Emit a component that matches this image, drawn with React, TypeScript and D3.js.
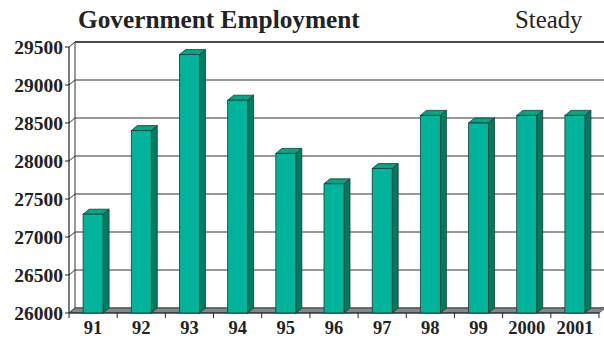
import React from "react";
import * as d3 from "d3";

const categories = ["91", "92", "93", "94", "95", "96", "97", "98", "99", "2000", "2001"];
const values = [27300, 28400, 29400, 28800, 28100, 27700, 27900, 28600, 28500, 28600, 28600];
const yTicks = [26000, 26500, 27000, 27500, 28000, 28500, 29000, 29500];

const W = 604, H = 339;
const left = 69, right = 599, bottom = 313, top = 47;
const DX = 6, DY = -5;

export default function App() {
  const x = d3.scaleBand<string>().domain(categories).range([left, right]).paddingInner(0).paddingOuter(0);
  const y = d3.scaleLinear().domain([26000, 29500]).range([bottom, top]);
  const bw = 20;
  const serif = "'Liberation Serif', 'Times New Roman', serif";

  return (
    <svg width={W} height={H} style={{ position: "absolute", left: 0, top: 0 }}>
      <rect width={W} height={H} fill="#fff" />
      <text x={78} y={28} fontFamily={serif} fontWeight="bold" fontSize={25.3} fill="#222">Government Employment</text>
      <text x={515} y={28} fontFamily={serif} fontSize={24.8} fill="#222">Steady</text>

      {/* back wall gridlines */}
      {yTicks.map((t) => (
        <g key={t}>
          <line x1={left + DX} x2={W} y1={y(t) + DY} y2={y(t) + DY} stroke={t === 29500 ? "#111" : "#333"} strokeWidth={t === 29500 ? 1.4 : 1} />
          <line x1={left} x2={left + DX} y1={y(t)} y2={y(t) + DY} stroke="#333" strokeWidth={1} />
          <line x1={left - 4} x2={left} y1={y(t)} y2={y(t)} stroke="#222" strokeWidth={1} />
          <text x={63} y={y(t) + 6.5} textAnchor="end" fontFamily={serif} fontWeight="bold" fontSize={19.5} fill="#222">{t}</text>
        </g>
      ))}
      <line x1={left + DX} x2={left + DX} y1={y(29500) + DY} y2={bottom + DY} stroke="#333" />
      <line x1={left} x2={left} y1={y(29500)} y2={bottom} stroke="#222" strokeWidth={1.2} />

      {/* floor */}
      <polygon
        points={`${left},${bottom} ${left + DX},${bottom + DY} ${right + DX},${bottom + DY} ${right},${bottom}`}
        fill="#7e898e" stroke="#333" strokeWidth={0.8}
      />
      <line x1={left} x2={right} y1={bottom} y2={bottom} stroke="#222" strokeWidth={1.2} />
      {categories.map((c) => (
        <line key={"t" + c} x1={x(c)!} x2={x(c)!} y1={bottom} y2={bottom + 5} stroke="#222" />
      ))}
      <line x1={right} x2={right} y1={bottom} y2={bottom + 5} stroke="#222" />

      {/* bars */}
      {categories.map((c, i) => {
        const cx = x(c)! + x.bandwidth() / 2;
        const x0 = cx - bw / 2;
        const x1 = cx + bw / 2;
        const yt = y(values[i]);
        return (
          <g key={c} stroke="#1a3a30" strokeWidth={0.8}>
            <polygon points={`${x1},${yt} ${x1 + DX},${yt + DY} ${x1 + DX},${bottom + DY} ${x1},${bottom}`} fill="#007b5f" />
            <polygon points={`${x0},${yt} ${x0 + DX},${yt + DY} ${x1 + DX},${yt + DY} ${x1},${yt}`} fill="#00a487" />
            <rect x={x0} y={yt} width={bw} height={bottom - yt} fill="#00b39b" />
          </g>
        );
      })}

      {categories.map((c) => (
        <text key={"l" + c} x={x(c)! + x.bandwidth() / 2} y={334} textAnchor="middle" fontFamily={serif} fontWeight="bold" fontSize={18.5} fill="#222">{c}</text>
      ))}
    </svg>
  );
}
